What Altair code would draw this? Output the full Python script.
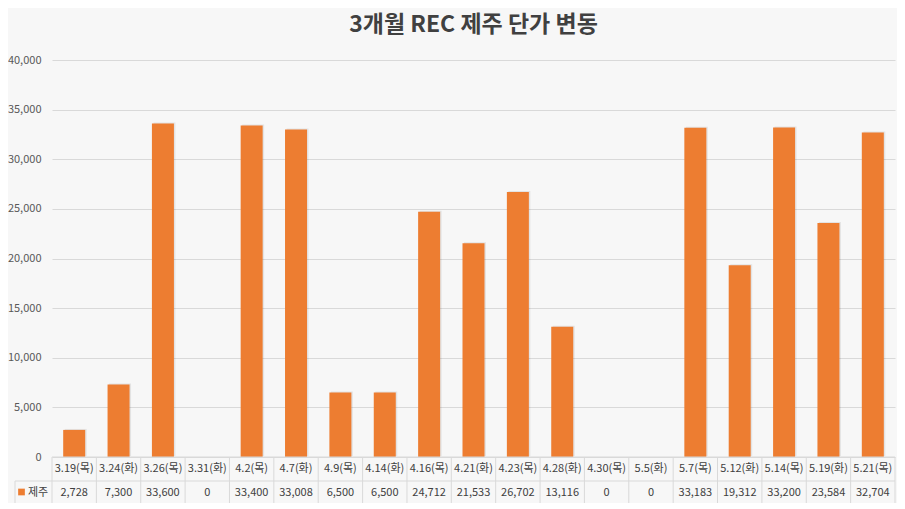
import altair as alt
import pandas as pd

categories = ["3.19(목)", "3.24(화)", "3.26(목)", "3.31(화)", "4.2(목)", "4.7(화)", "4.9(목)",
              "4.14(화)", "4.16(목)", "4.21(화)", "4.23(목)", "4.28(화)", "4.30(목)", "5.5(화)",
              "5.7(목)", "5.12(화)", "5.14(목)", "5.19(화)", "5.21(목)"]
values = [2728, 7300, 33600, 0, 33400, 33008, 6500, 6500, 24712, 21533, 26702, 13116,
          0, 0, 33183, 19312, 33200, 23584, 32704]
y_ticks = [0, 5000, 10000, 15000, 20000, 25000, 30000, 35000, 40000]
series_name = "제주"
title_text = "3개월 REC 제주 단가 변동"

df = pd.DataFrame({"cat": categories, "val": values})
df["label"] = df["val"].map(lambda v: f"{v:,}")
last_df = df.tail(1)

W, H = 843, 397
ORANGE = "#ED7D31"
GRID = "#d9d9d9"
TXT = "#404040"
FONT = "Noto Sans CJK KR"

xs = alt.Scale(domain=categories, paddingInner=0, paddingOuter=0)
ys = alt.Scale(domain=[0, 40000])

base = alt.Chart(df)

shadow = base.mark_bar(width=22, color="#000000", opacity=0.08, xOffset=1.5, yOffset=-1).encode(
    x=alt.X("cat:N", scale=xs, axis=None, sort=categories),
    y=alt.Y("val:Q", scale=ys),
)

bars = base.mark_bar(width=22, color=ORANGE).encode(
    x=alt.X("cat:N", scale=xs, axis=None, sort=categories),
    y=alt.Y("val:Q", scale=ys, title=None,
            axis=alt.Axis(values=y_ticks, format=",.0f", domain=False,
                          ticks=False, labelPadding=11, labelFontSize=11,
                          labelColor="#595959", labelFont=FONT,
                          gridColor=GRID, gridWidth=1)),
)

cat_text = base.mark_text(fontSize=11, color=TXT, font=FONT).encode(
    x=alt.X("cat:N", scale=xs, sort=categories),
    y=alt.value(H + 12),
    text="cat:N",
)
val_text = base.mark_text(fontSize=11, color=TXT, font=FONT).encode(
    x=alt.X("cat:N", scale=xs, sort=categories),
    y=alt.value(H + 36),
    text="label:N",
)

vlines = base.mark_rule(color=GRID, strokeWidth=1).encode(
    x=alt.X("cat:N", scale=xs, sort=categories, bandPosition=0),
    y=alt.value(H), y2=alt.value(H + 48),
)
vline_end = alt.Chart(last_df).mark_rule(color=GRID, strokeWidth=1).encode(
    x=alt.X("cat:N", scale=xs, sort=categories, bandPosition=1),
    y=alt.value(H), y2=alt.value(H + 48),
)

hline0 = alt.Chart(last_df).mark_rule(color=GRID, strokeWidth=1).encode(
    x=alt.value(0), x2=alt.value(W), y=alt.value(H))
hline1 = alt.Chart(last_df).mark_rule(color=GRID, strokeWidth=1).encode(
    x=alt.value(-37), x2=alt.value(W), y=alt.value(H + 24))
hline2 = alt.Chart(last_df).mark_rule(color=GRID, strokeWidth=1).encode(
    x=alt.value(-37), x2=alt.value(W), y=alt.value(H + 48))
vleft = alt.Chart(last_df).mark_rule(color=GRID, strokeWidth=1).encode(
    x=alt.value(-37), y=alt.value(H + 24), y2=alt.value(H + 48))

legend_sq = alt.Chart(last_df).mark_square(color=ORANGE, opacity=1, size=45).encode(
    x=alt.value(-30.5), y=alt.value(H + 35))
legend_txt = alt.Chart(pd.DataFrame({"t": [series_name]})).mark_text(
    fontSize=11, color=TXT, font=FONT, align="left").encode(
    x=alt.value(-24), y=alt.value(H + 36), text="t:N")

title_mark = alt.Chart(pd.DataFrame({"t": [title_text]})).mark_text(
    fontSize=23, color=TXT, font=FONT, fontWeight="bold", align="center",
    baseline="middle").encode(
    x=alt.value(W / 2), y=alt.value(-35), text="t:N")

chart = alt.layer(
    shadow, bars, vlines, vline_end, hline0, hline1, hline2, vleft,
    cat_text, val_text, legend_sq, legend_txt, title_mark,
).properties(
    width=W, height=H,
    autosize=alt.AutoSizeParams(type="none"),
    padding={"left": 44, "top": 52, "right": 2, "bottom": 46},
    background="#f7f7f7",
).configure_view(stroke=None)

chart.save("out.html", embed_options={"renderer": "svg", "actions": False})
